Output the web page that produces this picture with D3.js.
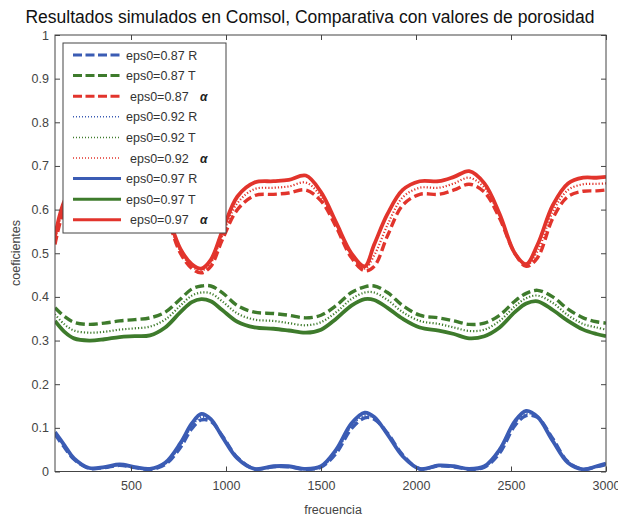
<!DOCTYPE html>
<html lang="es">
<head>
<meta charset="UTF-8">
<title>Resultados simulados en Comsol</title>
<script src="https://cdn.jsdelivr.net/npm/d3@7"></script>
<style>
  body { margin: 0; background: #fff; }
  svg text { font-family: "Liberation Sans", Arial, sans-serif; }
</style>
</head>
<body>
<script>
    // frecuencias de muestreo
    var freq = [100, 150, 200, 280, 360, 440, 520, 600, 680, 760, 820, 870, 920, 980, 1060, 1150, 1250, 1330, 1420, 1500,
                1580, 1660, 1730, 1780, 1850, 1930, 2020, 2120, 2200, 2280, 2360, 2440, 2520, 2580, 2640, 2720, 2800, 2880, 2950, 3000];

    // R (reflexion)
    var R087 = [0.085, 0.055, 0.028, 0.007, 0.009, 0.014, 0.009, 0.005, 0.016, 0.055, 0.098, 0.118, 0.115, 0.082, 0.032, 0.006, 0.011, 0.011, 0.005, 0.010,
                0.042, 0.098, 0.123, 0.120, 0.088, 0.038, 0.006, 0.013, 0.011, 0.005, 0.010, 0.042, 0.105, 0.128, 0.124, 0.075, 0.022, 0.005, 0.011, 0.016];
    var R092 = [0.088, 0.058, 0.029, 0.008, 0.010, 0.015, 0.010, 0.006, 0.018, 0.060, 0.104, 0.125, 0.118, 0.081, 0.031, 0.006, 0.012, 0.012, 0.006, 0.011,
                0.046, 0.104, 0.129, 0.122, 0.086, 0.036, 0.006, 0.014, 0.012, 0.006, 0.011, 0.046, 0.110, 0.133, 0.124, 0.072, 0.021, 0.005, 0.012, 0.017];
    var R097 = [0.090, 0.060, 0.030, 0.008, 0.010, 0.016, 0.010, 0.006, 0.020, 0.065, 0.110, 0.132, 0.120, 0.080, 0.030, 0.006, 0.012, 0.012, 0.006, 0.012,
                0.050, 0.110, 0.135, 0.125, 0.085, 0.035, 0.006, 0.014, 0.012, 0.006, 0.012, 0.050, 0.115, 0.139, 0.125, 0.070, 0.020, 0.005, 0.012, 0.018];

    // T (transmision)
    var T087 = [0.375, 0.355, 0.342, 0.337, 0.340, 0.345, 0.348, 0.352, 0.365, 0.395, 0.418, 0.425, 0.425, 0.410, 0.380, 0.365, 0.362, 0.358, 0.352, 0.358,
                0.380, 0.410, 0.423, 0.425, 0.410, 0.380, 0.358, 0.352, 0.345, 0.337, 0.340, 0.358, 0.390, 0.408, 0.415, 0.400, 0.372, 0.352, 0.343, 0.340];
    var T092 = [0.360, 0.337, 0.323, 0.318, 0.320, 0.325, 0.328, 0.332, 0.348, 0.380, 0.403, 0.410, 0.408, 0.390, 0.362, 0.348, 0.345, 0.340, 0.335, 0.342,
                0.365, 0.395, 0.410, 0.410, 0.393, 0.365, 0.345, 0.338, 0.330, 0.322, 0.325, 0.345, 0.378, 0.397, 0.403, 0.386, 0.358, 0.338, 0.330, 0.325];
    var T097 = [0.345, 0.320, 0.305, 0.300, 0.303, 0.308, 0.310, 0.312, 0.330, 0.365, 0.388, 0.395, 0.390, 0.370, 0.343, 0.330, 0.327, 0.323, 0.318, 0.325,
                0.350, 0.380, 0.395, 0.393, 0.375, 0.350, 0.330, 0.323, 0.315, 0.305, 0.310, 0.330, 0.365, 0.385, 0.390, 0.370, 0.345, 0.325, 0.315, 0.310];

    // alfa (absorcion)
    var A087 = [0.520, 0.600, 0.625, 0.640, 0.640, 0.635, 0.640, 0.640, 0.590, 0.500, 0.465, 0.455, 0.470, 0.530, 0.600, 0.632, 0.635, 0.638, 0.645, 0.620,
                0.560, 0.490, 0.460, 0.470, 0.540, 0.610, 0.635, 0.635, 0.645, 0.658, 0.640, 0.580, 0.500, 0.470, 0.490, 0.580, 0.630, 0.642, 0.643, 0.645];
    var A092 = [0.530, 0.610, 0.638, 0.652, 0.652, 0.648, 0.655, 0.652, 0.595, 0.505, 0.470, 0.460, 0.478, 0.540, 0.615, 0.647, 0.650, 0.653, 0.662, 0.630,
                0.565, 0.495, 0.465, 0.495, 0.565, 0.628, 0.650, 0.650, 0.660, 0.673, 0.650, 0.585, 0.500, 0.472, 0.505, 0.595, 0.645, 0.658, 0.659, 0.660];
    var A097 = [0.540, 0.620, 0.650, 0.665, 0.665, 0.660, 0.670, 0.665, 0.600, 0.510, 0.475, 0.465, 0.485, 0.550, 0.630, 0.662, 0.665, 0.668, 0.678, 0.640,
                0.570, 0.500, 0.470, 0.520, 0.590, 0.645, 0.665, 0.665, 0.675, 0.688, 0.660, 0.590, 0.500, 0.475, 0.520, 0.610, 0.660, 0.673, 0.673, 0.675];

    var xTicks = [500, 1000, 1500, 2000, 2500, 3000];
    var yTicks = [0, 0.1, 0.2, 0.3, 0.4, 0.5, 0.6, 0.7, 0.8, 0.9, 1];

    var series = [
        {name: "eps0=0.87 R", values: R087, color: "#3b5cb4", style: "dash"},
        {name: "eps0=0.87 T", values: T087, color: "#3e7b2c", style: "dash"},
        {name: "eps0=0.87", alpha: true, values: A087, color: "#e2342c", style: "dash"},
        {name: "eps0=0.92 R", values: R092, color: "#3b5cb4", style: "dot"},
        {name: "eps0=0.92 T", values: T092, color: "#3e7b2c", style: "dot"},
        {name: "eps0=0.92", alpha: true, values: A092, color: "#e2342c", style: "dot"},
        {name: "eps0=0.97 R", values: R097, color: "#3b5cb4", style: "solid"},
        {name: "eps0=0.97 T", values: T097, color: "#3e7b2c", style: "solid"},
        {name: "eps0=0.97", alpha: true, values: A097, color: "#e2342c", style: "solid"}
    ];

    var dash = {dash: "9,4", dot: "1.2,2", solid: null};
    var widths = {dash: 3.4, dot: 2.2, solid: 3.8};

    var width = 618, height = 518;
    var plotL = 55, plotR = 606, plotT = 35, plotB = 471.5;

    var svg = d3.select("body").append("svg")
            .attr("width", width)
            .attr("height", height);

    var x = d3.scaleLinear().domain([100, 3000]).range([plotL, plotR]);
    var y = d3.scaleLinear().domain([0, 1]).range([plotB, plotT]);

    svg.append("defs").append("clipPath").attr("id", "plot")
            .append("rect")
            .attr("x", plotL).attr("y", plotT)
            .attr("width", plotR - plotL).attr("height", plotB - plotT);

    // curvas
    var line = d3.line()
            .x(function (d) { return x(d[0]); })
            .y(function (d) { return y(d[1]); })
            .curve(d3.curveCatmullRom.alpha(0.5));

    svg.append("g")
            .attr("clip-path", "url(#plot)")
            .selectAll("path")
            .data(series)
            .enter()
            .append("path")
            .attr("fill", "none")
            .attr("stroke", function (d) { return d.color; })
            .attr("stroke-width", function (d) { return widths[d.style]; })
            .attr("stroke-dasharray", function (d) { return dash[d.style]; })
            .attr("d", function (d) {
                return line(freq.map(function (f, i) { return [f, d.values[i]]; }));
            });

    // ejes (ticks hacia dentro, como en MATLAB)
    var fmt = d3.format(".1~f");
    var axisColor = "#444";

    svg.append("g")
            .attr("transform", "translate(0," + plotB + ")")
            .call(d3.axisBottom(x).tickValues(xTicks).tickSizeInner(-5).tickSizeOuter(0).tickPadding(10).tickFormat(d3.format("d")));
    svg.append("g")
            .attr("transform", "translate(0," + plotT + ")")
            .call(d3.axisTop(x).tickValues(xTicks).tickSizeInner(-5).tickSizeOuter(0).tickFormat(""));
    svg.append("g")
            .attr("transform", "translate(" + plotL + ",0)")
            .call(d3.axisLeft(y).tickValues(yTicks).tickSizeInner(-5).tickSizeOuter(0).tickPadding(6).tickFormat(fmt));
    svg.append("g")
            .attr("transform", "translate(" + plotR + ",0)")
            .call(d3.axisRight(y).tickValues(yTicks).tickSizeInner(-5).tickSizeOuter(0).tickFormat(""));

    svg.selectAll(".domain").remove();
    svg.selectAll(".tick line").attr("stroke", axisColor);
    svg.selectAll(".tick text")
            .attr("fill", "#444")
            .style("font-size", "12.5px")
            .style("font-family", "'Liberation Sans', Arial, sans-serif");

    svg.append("rect")
            .attr("x", plotL).attr("y", plotT)
            .attr("width", plotR - plotL).attr("height", plotB - plotT)
            .attr("fill", "none")
            .attr("stroke", axisColor)
            .attr("stroke-width", 1);

    // textos
    svg.append("text")
            .attr("x", 310).attr("y", 23)
            .attr("text-anchor", "middle")
            .attr("fill", "#111")
            .style("font-size", "17.5px")
            .text("Resultados simulados en Comsol, Comparativa con valores de porosidad");

    svg.append("text")
            .attr("x", 333).attr("y", 514)
            .attr("text-anchor", "middle")
            .attr("fill", "#444")
            .style("font-size", "12.5px")
            .text("frecuencia");

    svg.append("text")
            .attr("transform", "translate(20,253) rotate(-90)")
            .attr("text-anchor", "middle")
            .attr("fill", "#444")
            .style("font-size", "12.5px")
            .text("coeficientes");

    // leyenda
    var legend = svg.append("g");
    legend.append("rect")
            .attr("x", 63).attr("y", 43)
            .attr("width", 163).attr("height", 190)
            .attr("fill", "#fff")
            .attr("stroke", axisColor);

    var rows = legend.selectAll("g.row")
            .data(series)
            .enter()
            .append("g")
            .attr("class", "row")
            .attr("transform", function (d, i) { return "translate(0," + (55 + i * 20.6) + ")"; });

    rows.append("line")
            .attr("x1", 73).attr("x2", 121)
            .attr("stroke", function (d) { return d.color; })
            .attr("stroke-width", function (d) { return d.style === "dot" ? 1.5 : 3; })
            .attr("stroke-dasharray", function (d) { return d.style === "dash" ? "9,3.5" : (d.style === "dot" ? "1,2" : null); });

    rows.append("text")
            .attr("x", function (d) { return d.alpha ? 130 : 126; })
            .attr("y", 4.5)
            .attr("fill", "#333")
            .style("font-size", "12.5px")
            .text(function (d) { return d.name; });

    rows.filter(function (d) { return d.alpha; })
            .append("text")
            .attr("x", 200).attr("y", 4.5)
            .attr("fill", "#222")
            .style("font-size", "12px")
            .style("font-style", "italic")
            .style("font-weight", "bold")
            .text("α");
</script>
</body>
</html>
